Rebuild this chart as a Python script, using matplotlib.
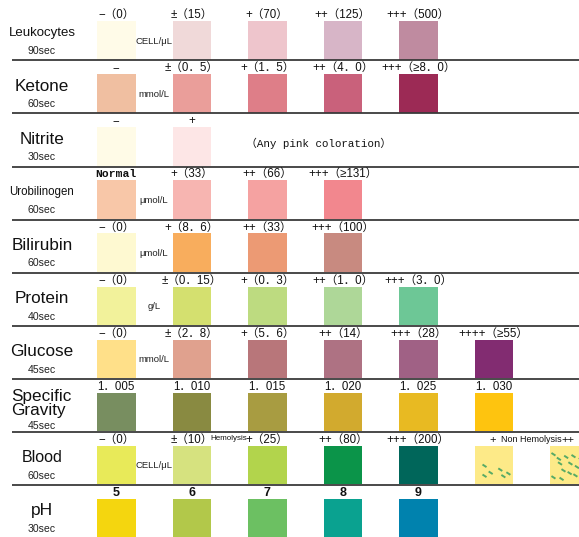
import matplotlib
matplotlib.use("Agg")
import matplotlib.pyplot as plt
from matplotlib.patches import Rectangle

# ---------------- data ----------------
row_names = ["Leukocytes", "Ketone", "Nitrite", "Urobilinogen", "Bilirubin",
             "Protein", "Glucose", "Specific\nGravity", "Blood", "pH"]
row_times = ["90sec", "60sec", "30sec", "60sec", "60sec",
             "40sec", "45sec", "45sec", "60sec", "30sec"]
row_units = ["CELL/μL", "mmol/L", "", "μmol/L", "μmol/L",
             "g/L", "mmol/L", "", "CELL/μL", ""]

leuko_labels = ["−（0）", "±（15）", "+（70）", "++（125）", "+++（500）"]
leuko_colors = ["#FFFBE8", "#F0D9D9", "#EEC5CC", "#D7B5C7", "#BF8BA0"]

ketone_labels = ["−", "±（0．5）", "+（1．5）", "++（4．0）", "+++（≥8．0）"]
ketone_colors = ["#F0BFA1", "#EA9E9A", "#DE7E88", "#C9617B", "#9C2A55"]

nitrite_labels = ["−", "+"]
nitrite_colors = ["#FFFBE7", "#FDE6E6"]
nitrite_note = "（Any pink coloration）"

urob_labels = ["Normal", "+（33）", "++（66）", "+++（≥131）"]
urob_colors = ["#F8C7A8", "#F7B5B1", "#F5A2A1", "#F2878E"]

bili_labels = ["−（0）", "+（8．6）", "++（33）", "+++（100）"]
bili_colors = ["#FEF9D1", "#F8AD5D", "#EC9A74", "#C88A80"]

protein_labels = ["−（0）", "±（0．15）", "+（0．3）", "++（1．0）", "+++（3．0）"]
protein_colors = ["#F2F29B", "#D4E06F", "#BDDB80", "#AED798", "#6DC796"]

glucose_labels = ["−（0）", "±（2．8）", "+（5．6）", "++（14）", "+++（28）", "++++（≥55）"]
glucose_colors = ["#FFE089", "#E0A18E", "#B8767A", "#AE7283", "#A06185", "#822C71"]

sg_labels = ["1．005", "1．010", "1．015", "1．020", "1．025", "1．030"]
sg_colors = ["#788E60", "#898A41", "#A89C41", "#D2AA2E", "#E8BA22", "#FEC40F"]

blood_labels = ["−（0）", "±（10）", "+（25）", "++（80）", "+++（200）", "+", "++"]
blood_colors = ["#E8EA59", "#D6E27F", "#B2D44C", "#0B9449", "#00665A", "#FDEA88", "#FDEA88"]
blood_spot_color = "#56AA66"
# relative spot positions inside the two non-hemolysis swatches
spots_plus = [(0.26, 0.52), (0.42, 0.70), (0.67, 0.62), (0.88, 0.72), (0.26, 0.78), (0.75, 0.79)]
spots_plusplus = [(0.09, 0.22), (0.23, 0.34), (0.42, 0.29), (0.26, 0.46), (0.61, 0.27),
                  (0.53, 0.46), (0.70, 0.55), (0.35, 0.64), (0.51, 0.71), (0.66, 0.77),
                  (0.09, 0.82), (0.80, 0.35), (0.30, 0.86)]

ph_labels = ["5", "6", "7", "8", "9"]
ph_colors = ["#F4D60F", "#B2C84A", "#6CC062", "#0AA290", "#0082AE"]

rows_labels = [leuko_labels, ketone_labels, nitrite_labels, urob_labels, bili_labels,
               protein_labels, glucose_labels, sg_labels, blood_labels, ph_labels]
rows_colors = [leuko_colors, ketone_colors, nitrite_colors, urob_colors, bili_colors,
               protein_colors, glucose_colors, sg_colors, blood_colors, ph_colors]

# ---------------- layout ----------------
W, H = 579, 537
fig = plt.figure(figsize=(W / 100, H / 100), dpi=100)
ax = fig.add_axes([0, 0, 1, 1])
ax.set_xlim(0, W)
ax.set_ylim(H, 0)
ax.axis("off")

col0, col_step = 97.0, 75.5
row0, row_step = 21.0, 53.1
sw = 38.5
name_x = 42

SANS = ["Liberation Sans", "DejaVu Sans"]
LAB = ["Liberation Sans", "Noto Sans CJK JP", "DejaVu Sans"]
MONO = ["Liberation Mono", "Noto Sans CJK JP", "DejaVu Sans"]

big_names = {"Ketone": 12.3, "Nitrite": 12.3, "Bilirubin": 12.3, "Protein": 12.3,
             "Glucose": 12.3, "Blood": 11.5, "pH": 12.5}

for i, (name, tm, unit, labels, colors) in enumerate(
        zip(row_names, row_times, row_units, rows_labels, rows_colors)):
    top = row0 + row_step * i
    # separator line
    if i > 0:
        ax.plot([12, W], [top - 13.8, top - 13.8], color="#3a3a3a", lw=1.3,
                solid_capstyle="butt")
    # row name
    if "\n" in name:
        first, second = name.split("\n")
        ax.text(11, top + 4, first, family=SANS, fontsize=12.3, ha="left",
                va="center", color="#111111")
        ax.text(11, top + 18, second, family=SANS, fontsize=12.3, ha="left",
                va="center", color="#111111")
        ax.text(name_x, top + 33, tm, family=SANS, fontsize=7.6, ha="center",
                va="center", color="#222222")
    else:
        fs = big_names.get(name, None)
        if fs is None:
            fs = 9.5 if name == "Leukocytes" else 8.3
        ax.text(name_x, top + 12, name, family=SANS, fontsize=fs, ha="center",
                va="center", color="#111111")
        ax.text(name_x, top + 30, tm, family=SANS, fontsize=7.6, ha="center",
                va="center", color="#222222")
    if unit:
        ax.text(154, top + 20, unit, family=SANS, fontsize=6.8, ha="center",
                va="center", color="#222222")
    # swatches
    for j, (lab, c) in enumerate(zip(labels, colors)):
        x = col0 + col_step * j
        ax.add_patch(Rectangle((x, top), sw, sw, facecolor=c, edgecolor="none"))
        cx = x + sw / 2
        if name == "pH":
            ax.text(cx, top - 6, lab, family=SANS, fontsize=9, fontweight="bold",
                    ha="center", va="center", color="#111111")
        elif lab == "Normal":
            ax.text(cx, top - 6, lab, family=["Liberation Mono"], fontsize=8.2,
                    fontweight="bold", ha="center", va="center", color="#111111")
        elif name == "Blood" and j >= 5:
            ax.text(cx - 1, top - 6, lab, family=LAB, fontsize=8.0, ha="center",
                    va="center", color="#111111")
        else:
            ax.text(cx, top - 6, lab, family=LAB, fontsize=8.3, ha="center",
                    va="center", color="#111111")
    if name == "Nitrite":
        ax.text(319, top + 16, nitrite_note, family=MONO, fontsize=7.8,
                ha="center", va="center", color="#111111")
    if name == "Blood":
        x3 = col0 + col_step * 2
        ax.text(x3 - 1, top - 7, "Hemolysis", family=SANS, fontsize=5.8,
                ha="right", va="center", color="#111111")
        x6 = col0 + col_step * 5
        x7 = col0 + col_step * 6
        ax.text((x6 + x7 + sw) / 2, top - 6, "Non Hemolysis", family=SANS,
                fontsize=6.5, ha="center", va="center", color="#111111")
        for xs, spots in ((x6, spots_plus), (x7, spots_plusplus)):
            for fx, fy in spots:
                px, py = xs + fx * sw, top + fy * sw
                ax.plot([px - 2.0, px + 2.0], [py - 1.3, py + 1.3],
                        color=blood_spot_color, lw=1.4, solid_capstyle="butt")

fig.savefig("out.png", dpi=100)
